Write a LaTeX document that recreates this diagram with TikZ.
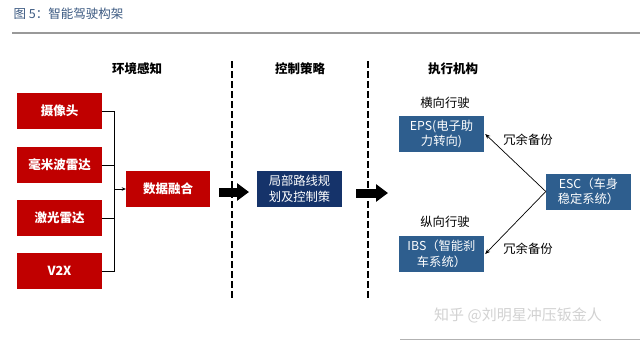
\documentclass[tikz,border=0pt]{standalone}
\usepackage{fontspec}
\setmainfont{Noto Sans CJK SC}
\usetikzlibrary{arrows.meta}
\definecolor{myred}{HTML}{C00000}
\definecolor{navy}{HTML}{15336A}
\definecolor{steel}{HTML}{2E5E8E}
\definecolor{titleblue}{HTML}{3C5A82}
\begin{document}
\begin{tikzpicture}[x=1pt,y=-1pt,
  redbox/.style={draw=none,fill=myred,text=white,minimum width=85pt,minimum height=36pt,inner sep=0pt,font=\fontsize{12.5}{14}\selectfont\bfseries},
  bluebox/.style={draw=none,fill=steel,text=white,minimum width=85pt,minimum height=36pt,inner sep=0pt,align=center,font=\fontsize{12.3}{15.5}\selectfont},
  head/.style={font=\fontsize{12.5}{14}\selectfont\bfseries},
  sub/.style={font=\fontsize{12.3}{14}\selectfont},
  divider/.style={line width=2.5pt,dash pattern=on 7pt off 3pt},
  bigarrow/.style={line width=9pt,-{Triangle[length=12pt,width=17pt]}},
  conn/.style={line width=0.7pt},
  thin/.style={line width=0.7pt,-{Stealth[length=5pt,width=4pt]}}]
\useasboundingbox (0,0) rectangle (640,341);
\fill[white] (0,0) rectangle (640,341);
% title
\node[anchor=west,text=titleblue,font=\fontsize{12.5}{14}\selectfont] (title) at (10,14) {图 5：智能驾驶构架};
\draw[gray!80,line width=1.2pt] (12,33) -- (640,33);
\draw[gray!60,line width=1pt] (400,339.5) -- (640,339.5);
% section heads
\node[head] (h1) at (137,69) {环境感知};
\node[head] (h2) at (300,69) {控制策略};
\node[head] (h3) at (453,69) {执行机构};
% dividers
\coordinate (d1a) at (232,61); \coordinate (d1b) at (232,301);
\coordinate (d2a) at (368,61); \coordinate (d2b) at (368,301);
\draw[divider] (d1a) -- (d1b);
\draw[divider] (d2a) -- (d2b);
% red boxes
\node[redbox] (cam) at (59.5,111) {摄像头};
\node[redbox] (mmw) at (59.5,165) {毫米波雷达};
\node[redbox] (lid) at (59.5,218) {激光雷达};
\node[redbox] (v2x) at (59.5,271) {V2X};
\node[redbox,minimum width=84pt] (fus) at (168,189) {数据融合};
% bracket
\coordinate (bt) at (114,111);
\coordinate (bb) at (114,271);
\coordinate (bm) at (114,189);
\draw[conn] (cam.east) -- (bt) -- (bb) -- (v2x.east);
\draw[conn] (mmw.east) -- (mmw.east -| bm);
\draw[conn] (lid.east) -- (lid.east -| bm);
\draw[conn,-{Stealth[length=4pt,width=3.5pt]}] (bm) -- (fus.west);
% control box
\node[fill=navy,text=white,minimum width=85pt,minimum height=36pt,inner sep=0pt,align=center,font=\fontsize{12.3}{15.5}\selectfont] (ctl) at (299.5,189) {局部路线规\\划及控制策};
% big arrows
\coordinate (a1s) at (219,192); \coordinate (a1e) at (249,192);
\coordinate (a2s) at (356,193); \coordinate (a2e) at (388,193);
\draw[bigarrow] (a1s) -- (a1e);
\draw[bigarrow] (a2s) -- (a2e);
% actuators
\node[sub] (lat) at (445,103) {横向行驶};
\node[sub] (lon) at (445,222) {纵向行驶};
\node[bluebox] (eps) at (441.5,134) {EPS(电子助\\力转向)};
\node[bluebox] (ibs) at (441.5,254) {IBS（智能刹\\车系统）};
\node[bluebox] (esc) at (588.5,191.5) {ESC（车身\\稳定系统）};
\draw[thin] (esc.west) -- ([xshift=1pt]eps.east);
\draw[thin] (esc.west) -- ([xshift=1pt]ibs.east);
\node[sub] (r1) at (528,140) {冗余备份};
\node[sub] (r2) at (528,249) {冗余备份};
% watermark
\node[text=gray!35,font=\fontsize{15}{17}\selectfont] (wm) at (518,315) {知乎 @刘明星冲压钣金人};
\end{tikzpicture}
\end{document}
